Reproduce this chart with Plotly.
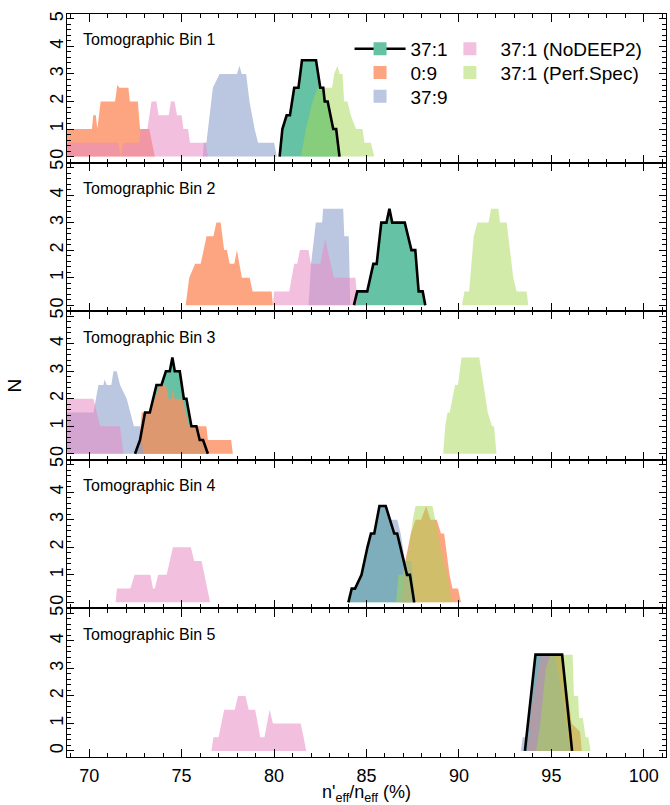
import plotly.graph_objects as go
from plotly.subplots import make_subplots

# ---------------- data ----------------
series_names = ["37:1", "0:9", "37:9", "37:1 (NoDEEP2)", "37:1 (Perf.Spec)"]
panel_titles = ["Tomographic Bin 1", "Tomographic Bin 2", "Tomographic Bin 3",
                "Tomographic Bin 4", "Tomographic Bin 5"]
x_ticks = [70, 75, 80, 85, 90, 95, 100]
y_ticks = [0, 1, 2, 3, 4, 5]

# 37:1
x_371 = [
    [80.3, 80.45, 80.68, 80.86, 81.09, 81.32, 81.51, 82.27, 82.5, 82.66, 82.74, 82.9, 83.2, 83.36, 83.54],
    [84.32, 84.5, 85.04, 85.37, 85.55, 85.8, 86.08, 86.24, 86.39, 87.07, 87.43, 87.64, 87.82, 88.04, 88.18],
    [72.48, 72.75, 73.02, 73.28, 73.64, 73.91, 74.15, 74.36, 74.5, 74.63, 74.9, 75.12, 75.26, 75.53, 75.8, 75.98, 76.16, 76.42],
    [84.02, 84.2, 84.38, 84.73, 85.05, 85.24, 85.42, 85.7, 86.04, 86.27, 86.5, 86.66, 87.19, 87.35, 87.58],
    [93.57, 94.14, 95.58, 96.12],
]
y_371 = [
    [0, 1, 1.5, 1.5, 2.5, 2.5, 3.5, 3.5, 2.5, 2.5, 2, 2, 1, 1, 0],
    [0, 0.5, 0.5, 1.5, 1.5, 3, 3, 3.5, 3, 3, 2, 2, 0.5, 0.5, 0],
    [0, 0.5, 1.5, 1.5, 2.5, 2.5, 3, 3, 3.5, 3, 3, 2, 2, 1, 1, 0.5, 0.5, 0],
    [0, 0.5, 0.5, 1, 2, 2.5, 2.5, 3.5, 3.5, 3, 2.5, 2.5, 1, 1, 0],
    [0, 3.5, 3.5, 0],
]
# 0:9
x_09 = [
    [68.5, 70.15, 70.22, 70.36, 70.44, 70.62, 71.4, 71.52, 71.64, 72.12, 72.2, 72.63, 72.75, 73.25, 73.55],
    [75.22, 75.41, 75.73, 76.03, 76.35, 76.72, 76.88, 77.11, 77.3, 77.45, 77.6, 77.85, 77.99, 78.12, 78.26, 78.68, 78.84, 79.87, 79.94],
    [72.66, 72.84, 73.28, 73.82, 74.15, 74.3, 74.45, 74.54, 74.62, 75.05, 75.4, 76.34, 76.42, 77.68, 77.77],
    [86.9, 87.1, 87.4, 87.65, 87.95, 88.23, 88.46, 88.8, 89.03, 89.2, 89.49, 89.65, 89.95, 90.11],
    [93.7, 93.91, 94.45, 95.6, 95.9, 96.1, 96.55, 96.65],
]
y_09 = [
    [1, 1, 1.5, 1.5, 1, 2, 2, 2.6, 2.5, 2.5, 2, 2, 1, 1, 0],
    [0, 1, 1.5, 1.5, 2.5, 2.5, 3, 3, 2, 2, 1.5, 1.5, 2, 1.5, 1, 1, 0.5, 0.5, 0],
    [0, 1.5, 1.5, 2.5, 2.5, 2, 2, 2.45, 2, 2, 1, 1, 0.5, 0.5, 0],
    [0, 1.5, 2.5, 3, 3, 3.5, 3, 3, 2.5, 2.5, 1, 0.5, 0.5, 0],
    [0, 1.5, 3.5, 3.5, 2, 1, 0.7, 0],
]
# 37:9
x_379 = [
    [76.15, 76.2, 76.34, 76.69, 77.05, 77.99, 78.13, 78.25, 78.49, 78.67, 78.95, 79.13, 80.0, 80.15],
    [81.86, 82.0, 82.26, 82.6, 82.65, 83.74, 83.8, 84.04, 84.12],
    [68.5, 70.23, 70.5, 70.77, 70.83, 70.95, 71.2, 71.31, 71.49, 71.67, 72.03, 72.42, 72.75, 72.93],
    [84.1, 84.3, 84.8, 85.1, 85.3, 85.5, 85.75, 86.1, 86.3, 86.66, 86.85, 87.08, 87.42, 87.65],
    [93.35, 93.45, 93.6, 94.2, 95.2, 95.6, 96.0],
]
y_379 = [
    [0, 0.5, 0.5, 2.5, 3, 3, 3.3, 3, 3, 2, 1, 0.5, 0.5, 0],
    [0, 1.5, 3, 3, 3.5, 3.5, 2.5, 2.5, 0],
    [1.5, 1.5, 2.5, 2.5, 2.7, 2.5, 2.5, 3, 3, 2.5, 2, 1, 1, 0],
    [0, 0.5, 1, 2, 2.5, 2.5, 3.5, 3.5, 3, 3, 2.5, 1.5, 1.5, 0],
    [0, 0.5, 0.5, 3.5, 3.5, 2, 0],
]
# 37:1 (NoDEEP2)
x_nod = [
    [68.5, 71.56, 71.7, 71.84, 72.7, 72.8, 73.15, 73.37, 73.64, 73.75, 74.3, 74.42, 74.62, 74.75, 75.0, 75.1, 75.35, 75.45, 76.3, 76.42],
    [79.94, 80.0, 80.82, 81.09, 81.25, 81.4, 81.86, 81.99, 82.5, 82.76, 83.24, 84.4, 84.54],
    [68.5, 70.23, 70.59, 71.67, 71.85],
    [71.43, 71.5, 72.23, 72.46, 73.31, 73.45, 73.55, 73.73, 74.19, 74.35, 74.53, 75.5, 75.68, 76.08, 76.38, 76.54],
    [76.61, 76.72, 77.0, 77.3, 77.87, 78.05, 78.45, 78.63, 78.98, 79.25, 79.48, 79.76, 79.94, 81.44, 81.6, 81.74],
]
y_nod = [
    [0.5, 0.5, 0, 0.5, 0.5, 1, 1, 2, 2, 1.5, 1.5, 2, 2, 1.5, 1.5, 1, 1, 0.5, 0.5, 0],
    [0, 0.5, 0.5, 1.5, 1.5, 2, 2, 1.5, 1.5, 2.4, 1, 1, 0],
    [2, 2, 1, 1, 0],
    [0, 0.5, 0.5, 1, 1, 0.5, 0.5, 1, 1, 1.5, 2, 2, 1.5, 1.5, 0.5, 0],
    [0, 0.5, 0.5, 1.5, 1.5, 2, 2, 1.5, 1.5, 0.5, 0.5, 1.5, 1, 1, 0.5, 0],
]
# 37:1 (Perf.Spec)
x_ps = [
    [81.45, 81.72, 82.08, 82.35, 82.7, 83.14, 83.25, 83.43, 83.55, 83.7, 83.79, 83.97, 84.15, 84.43, 84.78, 84.89, 85.24, 85.42],
    [90.16, 90.3, 90.55, 90.8, 91.0, 91.6, 91.74, 92.13, 92.22, 92.58, 92.94, 93.12, 93.66, 93.75],
    [89.15, 89.26, 89.38, 89.5, 89.79, 89.95, 90.14, 91.1, 91.33, 91.56, 91.79, 91.9, 92.03],
    [86.6, 86.72, 86.95, 87.31, 87.5, 87.65, 88.57, 88.7, 89.0, 89.38, 89.61],
    [94.18, 94.4, 94.7, 94.95, 96.15, 96.22, 96.45, 96.5, 96.7, 96.85, 97.0, 97.12],
]
y_ps = [
    [0, 1, 2, 2.5, 2.5, 2.5, 3, 3.3, 3, 3, 2, 2, 1.5, 1, 1, 0.5, 0.5, 0],
    [0, 0.5, 0.5, 2.5, 3, 3, 3.5, 3.5, 3, 3, 1, 0.5, 0.5, 0],
    [0, 1, 1.5, 1.5, 2.5, 2.5, 3.5, 3.5, 2.5, 1.5, 1, 1, 0],
    [0, 1, 1, 2, 3, 3.5, 3.5, 3, 2, 1, 0],
    [0, 1, 3, 3.5, 3.5, 2, 2, 1.2, 1.2, 0.5, 0.5, 0],
]

# ---------------- styling ----------------
FONT = "Liberation Sans, Arial, Helvetica, sans-serif"
fills = ["rgba(102,194,165,1.0)", "rgba(252,141,98,0.8)", "rgba(141,160,203,0.6)",
         "rgba(231,138,195,0.55)", "rgba(166,216,84,0.5)"]
all_x = [x_371, x_09, x_379, x_nod, x_ps]
all_y = [y_371, y_09, y_379, y_nod, y_ps]

fig = make_subplots(rows=5, cols=1, shared_xaxes=True, vertical_spacing=0)

for p in range(5):
    for s in range(5):
        fig.add_trace(go.Scatter(
            x=all_x[s][p], y=all_y[s][p], mode="lines", fill="tozeroy",
            fillcolor=fills[s], line=dict(width=0, color=fills[s]),
            showlegend=False, hoverinfo="skip"), row=p + 1, col=1)
    fig.add_trace(go.Scatter(
        x=x_371[p], y=y_371[p], mode="lines",
        line=dict(color="black", width=2.6), showlegend=False,
        hoverinfo="skip"), row=p + 1, col=1)

# legend entries: one legend per entry, laid out in two columns
legend_ids = ["legend", "legend2", "legend3", "legend4", "legend5"]
for s in range(5):
    if s == 0:
        tr = go.Scatter(x=[None], y=[None], mode="lines+markers", name=series_names[s],
                        line=dict(color="black", width=2.6),
                        marker=dict(symbol="square", size=13, color=fills[s]),
                        legend=legend_ids[s])
    else:
        tr = go.Scatter(x=[None], y=[None], mode="markers", name=series_names[s],
                        marker=dict(symbol="square", size=13, color=fills[s]),
                        legend=legend_ids[s])
    fig.add_trace(tr, row=1, col=1)

for p in range(5):
    fig.update_xaxes(range=[68.8, 101.2], tickvals=x_ticks, ticks="inside", ticklen=8,
                     tickwidth=1.2, tickcolor="black",
                     minor=dict(dtick=1, tick0=70, ticks="inside", ticklen=4, tickcolor="black", tickwidth=1),
                     showline=True, linecolor="black", linewidth=1.2, mirror="allticks",
                     showgrid=False, zeroline=False, showticklabels=(p == 4),
                     ticklabelstandoff=2,
                     tickfont=dict(family=FONT, size=18, color="black"),
                     row=p + 1, col=1)
    fig.update_yaxes(range=[-0.22, 5.18], tickvals=y_ticks, ticks="inside", ticklen=7,
                     tickwidth=1.2, tickcolor="black",
                     minor=dict(dtick=0.2, tick0=0, ticks="inside", ticklen=4, tickcolor="black", tickwidth=1),
                     showline=True, linecolor="black", linewidth=1.2, mirror="allticks",
                     showgrid=False, zeroline=False, tickangle=-90, ticklabelstandoff=-4,
                     tickfont=dict(family=FONT, size=18, color="black"),
                     row=p + 1, col=1)
    fig.add_annotation(text=panel_titles[p], xref="x domain", yref="y domain" if p == 0 else f"y{p+1} domain",
                       x=0.023, y=1 - 26 / 149.4, xanchor="left", yanchor="middle", showarrow=False,
                       font=dict(family=FONT, size=16, color="black"))

fig.update_xaxes(title=dict(text="n'<sub>eff</sub>/n<sub>eff</sub> (%)", standoff=4,
                            font=dict(family=FONT, size=18, color="black")), row=5, col=1)

fig.add_annotation(text="N", xref="paper", yref="paper", x=-0.087, y=0.5, textangle=-90,
                   xanchor="center", yanchor="middle",
                   showarrow=False, font=dict(family=FONT, size=19, color="black"))

legend_pos = [(0.4717, 0.953), (0.4717, 0.921), (0.4717, 0.889), (0.6217, 0.953), (0.6217, 0.921)]
legend_layout = {}
for lid, (lx, ly) in zip(legend_ids, legend_pos):
    legend_layout[lid] = dict(x=lx, y=ly, xanchor="left", yanchor="middle",
                              bgcolor="rgba(0,0,0,0)", font=dict(family=FONT, size=19),
                              itemwidth=51, tracegroupgap=0)

fig.update_layout(
    width=670, height=805,
    margin=dict(l=67, r=3, t=14, b=44),
    paper_bgcolor="white", plot_bgcolor="white",
    font=dict(family=FONT, color="black"),
    **legend_layout,
)

fig.write_html("out.html")
